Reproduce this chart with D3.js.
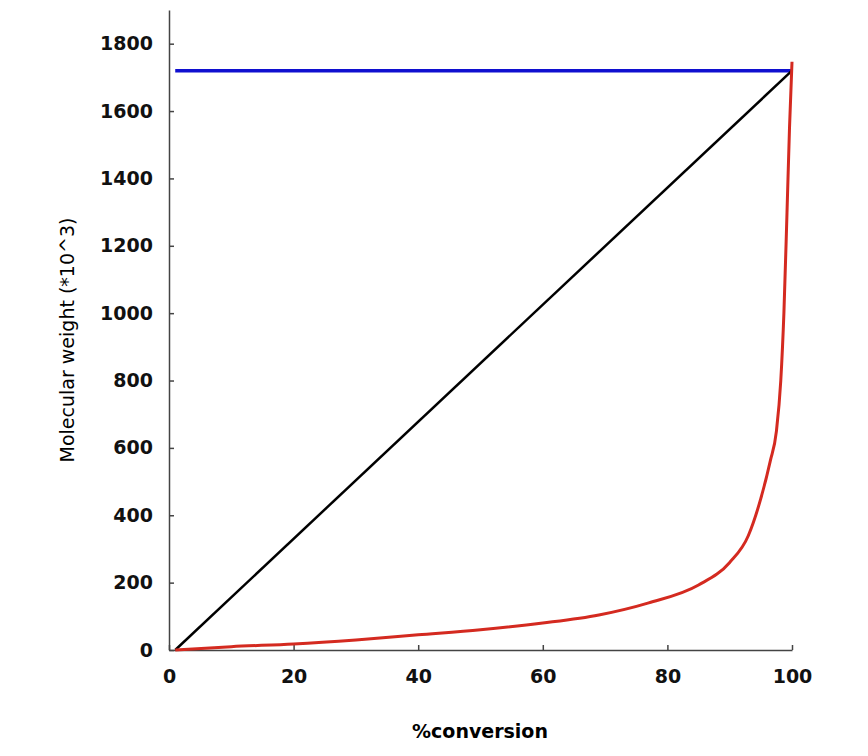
<!DOCTYPE html>
<html>
<head>
<meta charset="utf-8">
<script src="https://cdn.jsdelivr.net/npm/d3@7"></script>
<style>body{margin:0;background:#fff}</style>
</head>
<body>
<div id="chart"></div>
<script>
// values
const xTicks = [0, 20, 40, 60, 80, 100]
const yTicks = [0, 200, 400, 600, 800, 1000, 1200, 1400, 1600, 1800]
const blueX = [1, 100]
const blueY = [1720, 1720]
const blackX = [1, 100]
const blackY = [0, 1720]
const redX = [1, 10, 20, 30, 40, 50, 60, 69, 77, 85, 90, 93, 95, 96.5, 97.5, 98.2, 98.7, 99.2, 99.6, 100]
const redY = [0, 10, 18, 30, 45, 60, 80, 104, 140, 193, 260, 340, 450, 560, 650, 800, 1000, 1300, 1550, 1746]

const width = 868, height = 756
const margin = {top: 10, left: 169, right: 76, bottom: 106}

const svg = d3.select('#chart').append('svg')
    .attr('width', width).attr('height', height)

const x = d3.scaleLinear().domain([0, 100]).range([margin.left, width - margin.right])
const y = d3.scaleLinear().domain([0, 1900]).range([height - margin.bottom, margin.top])

svg.append('g')
    .attr('transform', `translate(0,${y(0)})`)
    .call(d3.axisBottom(x).tickValues(xTicks).tickFormat(d3.format('d'))
      .tickSizeInner(-5).tickSizeOuter(0).tickPadding(20))
svg.append('g')
    .attr('transform', `translate(${x(0)},0)`)
    .call(d3.axisLeft(y).tickValues(yTicks).tickFormat(d3.format('d'))
      .tickSizeInner(-5).tickSizeOuter(0).tickPadding(16))

svg.selectAll('.domain, .tick line').attr('stroke', '#444').attr('stroke-width', 1.5)
svg.selectAll('.tick text')
    .style('font-family', 'DejaVu Sans').style('font-weight', 'bold')
    .style('font-size', '19px').attr('fill', '#111')

const straight = d3.line().x(d => x(d[0])).y(d => y(d[1]))
const smooth = d3.line().curve(d3.curveMonotoneX).x(d => x(d[0])).y(d => y(d[1]))

svg.append('path')
    .attr('d', straight(d3.zip(blueX, blueY)))
    .attr('fill', 'none').attr('stroke', '#1010d0').attr('stroke-width', 3.5)
svg.append('path')
    .attr('d', straight(d3.zip(blackX, blackY)))
    .attr('fill', 'none').attr('stroke', '#000').attr('stroke-width', 2.5)
svg.append('path')
    .attr('d', smooth(d3.zip(redX, redY)))
    .attr('fill', 'none').attr('stroke', '#d42a20').attr('stroke-width', 3)

svg.append('text')
    .attr('x', 480).attr('y', 738).attr('text-anchor', 'middle')
    .style('font-family', 'DejaVu Sans').style('font-weight', 'bold').style('font-size', '19px')
    .text('%conversion')
svg.append('text')
    .attr('transform', `translate(74,${(y(0) + margin.top) / 2 + 10}) rotate(-90)`)
    .attr('text-anchor', 'middle')
    .style('font-family', 'DejaVu Sans').style('font-size', '19px')
    .text('Molecular weight (*10^3)')
</script>
</body>
</html>
